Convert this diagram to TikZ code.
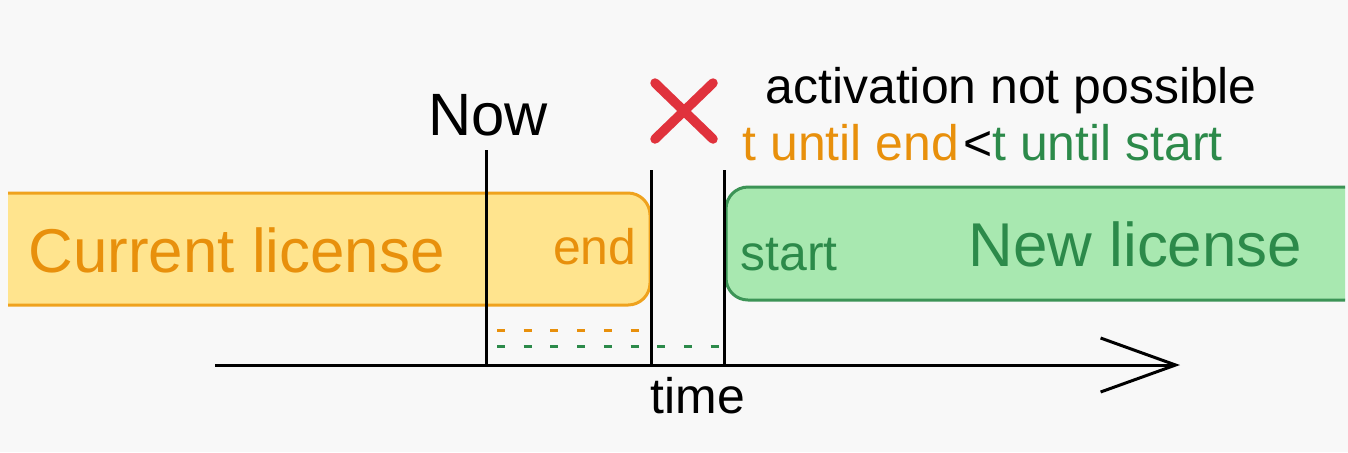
\documentclass[tikz,border=0pt]{standalone}
\usepackage{fontspec}
\setmainfont{Liberation Sans}
\usepackage{xcolor}
\usepackage{tikz}
\usetikzlibrary{
  arrows.meta,
  shapes.misc,
  positioning
}
\definecolor{lcBack}{HTML}{F8F8F8}
\definecolor{lcCurFill}{HTML}{FFE48E}
\definecolor{lcCurLine}{HTML}{EFA21E}
\definecolor{lcCurText}{HTML}{E8900C}
\definecolor{lcNewFill}{HTML}{A8E8B0}
\definecolor{lcNewLine}{HTML}{3C9456}
\definecolor{lcNewText}{HTML}{2C8A4A}
\definecolor{lcCross}{HTML}{E0323C}
\tikzset{
  bigtext/.style={font=\fontsize{17.6}{20}\selectfont, inner sep=0pt},
  nowtext/.style={font=\fontsize{17}{20}\selectfont, inner sep=0pt},
  smalltext/.style={font=\fontsize{14.2}{17}\selectfont, inner sep=0pt},
  curbox/.style={fill=lcCurFill, draw=lcCurLine, line width=0.3mm, rounded corners=2.2mm},
  newbox/.style={fill=lcNewFill, draw=lcNewLine, line width=0.3mm, rounded corners=2.2mm},
  marker/.style={line width=0.3mm, black},
  timeaxis/.style={-{Straight Barb[length=7.5mm, width=5.4mm, line width=0.3mm]}, line width=0.3mm, black},
  gap/.style={line width=0.3mm, dash pattern=on 0.8mm off 1.87mm},
  nope/.style={cross out, draw=lcCross, line width=0.95mm, line cap=round, minimum width=5.8mm, minimum height=5.6mm, inner sep=0pt, outer sep=0pt}
}

\begin{document}
\begin{tikzpicture}[x=0.1mm, y=-0.1mm]
  \useasboundingbox (0,0) rectangle (1348,452);
  \fill[lcBack] (0,0) rectangle (1348,452);

  % license bars
  \filldraw[curbox] (8,193) -- (650,193) -- (650,305) -- (8,305);
  \filldraw[newbox] (1345,187) -- (726,187) -- (726,300) -- (1345,300);

  \node[bigtext, text=lcCurText, anchor=base west] (cur) at (28,272) {Current license};
  \node[smalltext, text=lcCurText, anchor=base east] (endlbl) at (637,264) {end};
  \node[smalltext, text=lcNewText, anchor=base west] (startlbl) at (740,270) {start};
  \node[bigtext, text=lcNewText, anchor=base west] (new) at (968,266) {New license};

  % time axis and markers
  \coordinate (t0) at (215,365);
  \coordinate (t1) at (1180,365);
  \coordinate (nowtop) at (486,150);
  \coordinate (nowbot) at (486,365);
  \coordinate (endtop) at (651,170);
  \coordinate (endbot) at (651,365);
  \coordinate (starttop) at (724,170);
  \coordinate (startbot) at (724,365);
  \draw[timeaxis] (t0) -- (t1);
  \draw[marker] (nowtop) -- (nowbot);
  \draw[marker] (endtop) -- (endbot);
  \draw[marker] (starttop) -- (startbot);
  \node[smalltext, anchor=base] (time) at (698,413) {time};
  \node[nowtext, anchor=base] (now) at (488,135) {Now};

  % remaining times
  \coordinate (ga) at (497,330);
  \coordinate (gb) at (648,330);
  \coordinate (gc) at (497,346);
  \coordinate (gd) at (724,346);
  \draw[gap, lcCurText] (ga) -- (gb);
  \draw[gap, lcNewText] (gc) -- (gd);

  % verdict
  \node[nope] (cross) at (684,111) {};
  \node[smalltext, anchor=base west] (msg) at (765,103) {activation not possible};
  \node[smalltext, anchor=base west] (cond) at (742,160)
    {\textcolor{lcCurText}{t until end}\kern1.2pt<\textcolor{lcNewText}{t until start}};
\end{tikzpicture}
\end{document}
